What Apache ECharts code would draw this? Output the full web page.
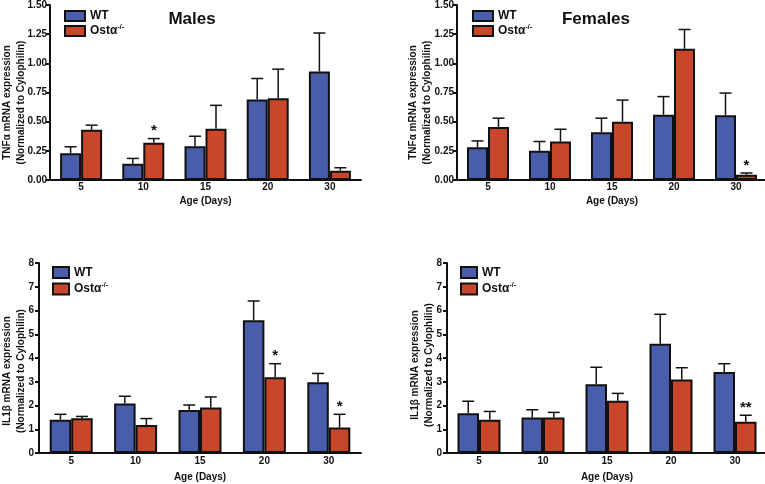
<!DOCTYPE html>
<html><head><meta charset="utf-8">
<script src="https://cdn.jsdelivr.net/npm/echarts@6/dist/echarts.min.js"></script>
<style>html,body{margin:0;padding:0;background:#fff}#c{width:765px;height:484px}</style>
</head><body><div id="c"></div>
<script>
const categories = ['5','10','15','20','30'];
const topTicks = [0, 0.25, 0.5, 0.75, 1.0, 1.25, 1.5];
const bottomTicks = [0,1,2,3,4,5,6,7,8];

// Males TNFα
const maleTnfWT = [0.23, 0.14, 0.29, 0.69, 0.93];
const maleTnfWTUpper = [0.285, 0.185, 0.375, 0.87, 1.26];
const maleTnfKO = [0.43, 0.32, 0.44, 0.70, 0.08];
const maleTnfKOUpper = [0.47, 0.355, 0.64, 0.95, 0.105];
const maleTnfKOSig = ['', '*', '', '', ''];
// Females TNFα
const femTnfWT = [0.28, 0.25, 0.41, 0.56, 0.555];
const femTnfWTUpper = [0.335, 0.33, 0.53, 0.715, 0.745];
const femTnfKO = [0.455, 0.33, 0.50, 1.125, 0.045];
const femTnfKOUpper = [0.53, 0.435, 0.685, 1.29, 0.06];
const femTnfKOSig = ['', '', '', '', '*'];
// Males IL1β
const maleIlWT = [1.40, 2.08, 1.81, 5.59, 2.98];
const maleIlWTUpper = [1.63, 2.39, 2.02, 6.40, 3.35];
const maleIlKO = [1.46, 1.18, 1.92, 3.19, 1.07];
const maleIlKOUpper = [1.54, 1.45, 2.36, 3.76, 1.63];
const maleIlKOSig = ['', '', '', '*', '*'];
// Females IL1β
const femIlWT = [1.67, 1.50, 2.89, 4.60, 3.41];
const femIlWTUpper = [2.18, 1.82, 3.61, 5.84, 3.76];
const femIlKO = [1.40, 1.50, 2.20, 3.09, 1.32];
const femIlKOUpper = [1.75, 1.71, 2.51, 3.59, 1.59];
const femIlKOSig = ['', '', '', '', '**'];
const noSig = ['', '', '', '', ''];

const WT = 'WT', KO = 'Ostα-/-';
const BLUE = '#4a5dab', RED = '#c8472a', INK = '#111';
const FONT = '"Liberation Sans", Arial, Helvetica, sans-serif';

const chart = echarts.init(document.getElementById('c'), null, {renderer: 'canvas'});

const grids = [
  {left: 50, top: 5, width: 311, height: 175, outerBoundsMode: 'none', containLabel: false},
  {left: 457, top: 5, width: 310, height: 175, outerBoundsMode: 'none', containLabel: false},
  {left: 39, top: 263, width: 322, height: 190, outerBoundsMode: 'none', containLabel: false},
  {left: 447, top: 263, width: 320, height: 190, outerBoundsMode: 'none', containLabel: false}
];
const barW = [21, 21, 21.5, 21.5];

function xAxis(gi, gap, margin) {
  return {
    type: 'category', gridIndex: gi, data: categories,
    name: 'Age (Days)', nameLocation: 'middle', nameGap: gap, nameMoveOverlap: false,
    nameTextStyle: {fontFamily: FONT, fontWeight: 'bold', fontSize: 10, color: INK},
    axisLine: {lineStyle: {color: INK, width: 2}},
    axisTick: {show: false},
    axisLabel: {fontFamily: FONT, fontWeight: 'bold', fontSize: 10, color: INK, margin: margin},
    splitLine: {show: false}
  };
}
function yAxis(gi, ticks, line1, gap, shift, dec, margin) {
  return {
    type: 'value', gridIndex: gi, min: ticks[0], max: ticks[ticks.length - 1],
    interval: ticks[1] - ticks[0],
    name: line1 + '\n(Normalized to Cylophilin)', nameLocation: 'middle', nameGap: gap,
    nameMoveOverlap: false,
    nameTextStyle: {fontFamily: FONT, fontWeight: 'bold', fontSize: 10, color: INK, lineHeight: 14,
      padding: [0, shift, 0, 0]},
    axisLine: {show: true, lineStyle: {color: INK, width: 2}},
    axisTick: {show: true, length: 4, lineStyle: {color: INK, width: 2}},
    axisLabel: {fontFamily: FONT, fontWeight: 'bold', fontSize: 10, color: INK, margin: margin,
      formatter: v => v.toFixed(dec)},
    splitLine: {show: false}
  };
}
function bar(gi, name, data, color) {
  return {
    type: 'bar', name: name, xAxisIndex: gi, yAxisIndex: gi, data: data,
    barWidth: barW[gi], barGap: '0%',
    itemStyle: {color: color, borderColor: INK, borderWidth: 2},
    emphasis: {disabled: true}, z: 2
  };
}
function errs(gi, means, uppers, sigs, side) {
  const bw = barW[gi];
  return {
    type: 'custom', xAxisIndex: gi, yAxisIndex: gi, z: 5, silent: true,
    data: means.map((m, i) => [i, m, uppers[i]]),
    renderItem(params, api) {
      const i = api.value(0);
      const p0 = api.coord([i, api.value(1)]);
      const p1 = api.coord([i, api.value(2)]);
      const cx = p0[0] + side * bw / 2;
      const children = [
        {type: 'line', shape: {x1: cx, y1: p0[1], x2: cx, y2: p1[1]}, style: {stroke: INK, lineWidth: 1.5}},
        {type: 'line', shape: {x1: cx - 6, y1: p1[1], x2: cx + 6, y2: p1[1]}, style: {stroke: INK, lineWidth: 1.5}}
      ];
      const s = sigs[params.dataIndex];
      if (s) children.push({type: 'text', x: cx, y: p1[1] - 15,
        style: {text: s, font: 'bold 15px ' + FONT, textAlign: 'center', textVerticalAlign: 'top', fill: INK}});
      return {type: 'group', children: children};
    }
  };
}
function legend(left, top, w, h, gap) {
  return {
    left: left, top: top, orient: 'vertical', itemWidth: w, itemHeight: h, itemGap: gap,
    icon: 'rect', selectedMode: false, data: [WT, KO],
    formatter: n => n === WT ? 'WT' : 'Ostα{sup|-/-}',
    textStyle: {fontFamily: FONT, fontWeight: 'bold', fontSize: 12, color: INK,
      rich: {sup: {fontFamily: FONT, fontWeight: 'bold', fontSize: 7, color: INK, verticalAlign: 'top', lineHeight: 14}}}
  };
}

const option = {
  animation: false,
  backgroundColor: '#fff',
  grid: grids,
  xAxis: [xAxis(0, 16, 2), xAxis(1, 16, 2), xAxis(2, 19, 3), xAxis(3, 19, 3)],
  yAxis: [
    yAxis(0, topTicks, 'TNFα mRNA expression', 22, 20, 2, 3),
    yAxis(1, topTicks, 'TNFα mRNA expression', 23, 20, 2, 3),
    yAxis(2, bottomTicks, 'IL1β mRNA expression', 11, 26, 0, 5),
    yAxis(3, bottomTicks, 'IL1β mRNA expression', 11, 14, 0, 5)
  ],
  legend: [
    legend(59, 5, 20, 10, 2),
    legend(467, 5, 20, 10, 2),
    legend(47, 261, 16, 11, 3),
    legend(455, 261, 16, 11, 3)
  ],
  graphic: [
    {type: 'text', x: 192, y: 19, style: {text: 'Males', font: 'bold 17px ' + FONT, textAlign: 'center', textVerticalAlign: 'middle', fill: INK}},
    {type: 'text', x: 596, y: 19, style: {text: 'Females', font: 'bold 17px ' + FONT, textAlign: 'center', textVerticalAlign: 'middle', fill: INK}}
  ],
  series: [
    bar(0, WT, maleTnfWT, BLUE), bar(0, KO, maleTnfKO, RED),
    errs(0, maleTnfWT, maleTnfWTUpper, noSig, -1), errs(0, maleTnfKO, maleTnfKOUpper, maleTnfKOSig, 1),
    bar(1, WT, femTnfWT, BLUE), bar(1, KO, femTnfKO, RED),
    errs(1, femTnfWT, femTnfWTUpper, noSig, -1), errs(1, femTnfKO, femTnfKOUpper, femTnfKOSig, 1),
    bar(2, WT, maleIlWT, BLUE), bar(2, KO, maleIlKO, RED),
    errs(2, maleIlWT, maleIlWTUpper, noSig, -1), errs(2, maleIlKO, maleIlKOUpper, maleIlKOSig, 1),
    bar(3, WT, femIlWT, BLUE), bar(3, KO, femIlKO, RED),
    errs(3, femIlWT, femIlWTUpper, noSig, -1), errs(3, femIlKO, femIlKOUpper, femIlKOSig, 1)
  ]
};
chart.setOption(option);
</script>
</body></html>
